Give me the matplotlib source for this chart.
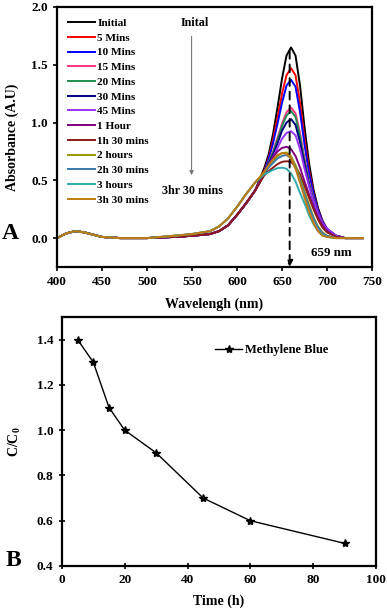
import numpy as np
import matplotlib
matplotlib.use('Agg')
import matplotlib.pyplot as plt

plt.rcParams['font.family'] = ['Liberation Serif', 'DejaVu Serif']
plt.rcParams['font.weight'] = 'bold'
plt.rcParams['mathtext.fontset'] = 'custom'
plt.rcParams['mathtext.rm'] = 'Liberation Serif:bold'
plt.rcParams['mathtext.bf'] = 'Liberation Serif:bold'

# ---- panel A: UV-vis spectra ----
wl = [400, 410, 420, 430, 440, 450, 470, 500, 530, 550, 570, 580, 590, 600, 610, 620,
      630, 635, 640, 645, 650, 655, 660, 665, 670, 675, 680, 685, 690, 695, 700, 710, 720, 740]

labels = ['Initial', '5 Mins', '10 Mins', '15 Mins', '20 Mins', '30 Mins', '45 Mins',
          '1 Hour', '1h 30 mins', '2 hours', '2h 30 mins', '3 hours', '3h 30 mins']
colors = ['#000000', '#ff0000', '#0000ff', '#ff3388', '#1f8f4f', '#000080', '#9933ff',
          '#800080', '#8b1a1a', '#999900', '#3a7aaa', '#33aaaa', '#c07a10']

# 400-620 nm part (early curves sit lower, later ones higher on the blue side)
low_early = [0.0, 0.04, 0.06, 0.05, 0.03, 0.01, 0.0, 0.0, 0.01, 0.02, 0.035, 0.06, 0.11, 0.20, 0.30, 0.41]
low_late = [0.0, 0.04, 0.06, 0.05, 0.03, 0.01, 0.0, 0.0, 0.02, 0.035, 0.06, 0.10, 0.17, 0.27, 0.38, 0.48]

# 630-740 nm part
initial = low_early + [0.60, 0.72, 0.90, 1.13, 1.38, 1.58, 1.65, 1.58, 1.32, 0.96, 0.65, 0.42, 0.26, 0.15, 0.08, 0.02, 0.0, 0.0]
mins5 = low_early + [0.58, 0.69, 0.85, 1.04, 1.25, 1.41, 1.47, 1.41, 1.17, 0.86, 0.59, 0.39, 0.24, 0.14, 0.08, 0.02, 0.0, 0.0]
mins10 = low_early + [0.57, 0.68, 0.82, 0.99, 1.17, 1.32, 1.37, 1.31, 1.09, 0.81, 0.56, 0.38, 0.24, 0.14, 0.08, 0.02, 0.0, 0.0]
mins15 = low_early + [0.56, 0.65, 0.75, 0.87, 0.99, 1.09, 1.13, 1.08, 0.91, 0.69, 0.49, 0.34, 0.22, 0.13, 0.07, 0.02, 0.0, 0.0]
mins20 = low_early + [0.56, 0.65, 0.74, 0.85, 0.97, 1.06, 1.10, 1.05, 0.88, 0.67, 0.48, 0.33, 0.21, 0.13, 0.07, 0.02, 0.0, 0.0]
mins30 = low_early + [0.55, 0.64, 0.72, 0.82, 0.93, 1.00, 1.03, 0.98, 0.83, 0.64, 0.46, 0.32, 0.21, 0.13, 0.07, 0.02, 0.0, 0.0]
mins45 = low_early + [0.55, 0.63, 0.70, 0.78, 0.86, 0.91, 0.925, 0.89, 0.77, 0.60, 0.45, 0.32, 0.21, 0.13, 0.08, 0.02, 0.0, 0.0]
hour1 = low_early + [0.55, 0.62, 0.70, 0.75, 0.78, 0.79, 0.77, 0.71, 0.61, 0.49, 0.38, 0.27, 0.18, 0.11, 0.06, 0.01, 0.0, 0.0]
hour1_30 = low_early + [0.54, 0.58, 0.61, 0.64, 0.66, 0.665, 0.66, 0.62, 0.55, 0.45, 0.35, 0.25, 0.16, 0.09, 0.05, 0.01, 0.0, 0.0]
hours2 = low_late + [0.57, 0.62, 0.67, 0.71, 0.735, 0.74, 0.71, 0.63, 0.52, 0.40, 0.29, 0.18, 0.10, 0.05, 0.02, 0.0, 0.0, 0.0]
hours2_30 = low_late + [0.56, 0.61, 0.65, 0.69, 0.71, 0.72, 0.69, 0.61, 0.50, 0.38, 0.27, 0.17, 0.09, 0.04, 0.02, 0.0, 0.0, 0.0]
hours3 = low_late + [0.55, 0.57, 0.59, 0.605, 0.61, 0.60, 0.56, 0.49, 0.39, 0.30, 0.20, 0.12, 0.06, 0.03, 0.01, 0.0, 0.0, 0.0]
hours3_30 = low_late + [0.57, 0.63, 0.68, 0.72, 0.735, 0.73, 0.69, 0.60, 0.48, 0.35, 0.23, 0.13, 0.06, 0.02, 0.01, 0.0, 0.0, 0.0]

spectra = [initial, mins5, mins10, mins15, mins20, mins30, mins45,
           hour1, hour1_30, hours2, hours2_30, hours3, hours3_30]

# ---- panel B: C/C0 vs time ----
time_h = [5, 10, 15, 20, 30, 45, 60, 90]
c_ratio = [1.4, 1.3, 1.1, 1.0, 0.9, 0.7, 0.6, 0.5]

fig = plt.figure(figsize=(3.87, 6.08), dpi=100)
ax1 = fig.add_axes([0.1473, 0.5609, 0.814, 0.4276])
ax2 = fig.add_axes([0.160, 0.0691, 0.8114, 0.4095])

for y, lab, c in zip(spectra, labels, colors):
    ax1.plot(wl, y, color=c, lw=1.4, label=lab, solid_joinstyle='round')

ax1.set_xlim(400, 750)
ax1.set_ylim(-0.25, 2.0)
ax1.set_xticks(np.arange(400, 751, 50))
ax1.set_yticks([0.0, 0.5, 1.0, 1.5, 2.0])
ax1.set_xlabel('Wavelengh (nm)', fontsize=10, fontweight='bold', labelpad=7)
ax1.set_ylabel('Absorbance (A.U)', fontsize=10, fontweight='bold', labelpad=9)
ax1.legend(loc='upper left', fontsize=8.1, frameon=False, handlelength=2.4,
           handletextpad=0.2, labelspacing=0.43, borderpad=0, borderaxespad=0,
           bbox_to_anchor=(0.035, 0.957))

# gray arrow Initial -> 3hr 30 mins
ax1.annotate('', xy=(549.5, 0.52), xytext=(549.5, 1.77),
             arrowprops=dict(arrowstyle='-|>', color='#777777', lw=0.8, mutation_scale=6))
ax1.text(553, 1.86, 'Inital', fontsize=8.7, fontweight='bold', ha='center', va='center')
ax1.text(551, 0.41, '3hr 30 mins', fontsize=8.7, fontweight='bold', ha='center', va='center')

# dashed peak arrow at 659 nm
ax1.annotate('', xy=(658.5, -0.25), xytext=(658.5, 1.62),
             arrowprops=dict(arrowstyle='-|>', color='black', lw=1.4, ls=(0, (4, 3)),
                             mutation_scale=9, shrinkA=0, shrinkB=0))
ax1.text(705, -0.13, '659 nm', fontsize=9.4, fontweight='bold', ha='center', va='center')
ax1.text(-0.175, 0.13, 'A', transform=ax1.transAxes, fontsize=17, fontweight='bold',
         ha='left', va='center')

ax2.plot(time_h, c_ratio, color='black', lw=1.0, marker='*', ms=6, label='Methylene Blue')
ax2.set_xlim(0, 100)
ax2.set_ylim(0.4, 1.5)
ax2.set_xticks(np.arange(0, 101, 20))
ax2.set_yticks([0.4, 0.6, 0.8, 1.0, 1.2, 1.4])
ax2.set_xlabel('Time (h)', fontsize=10, fontweight='bold', labelpad=6)
ax2.set_ylabel(r'C/C$_\mathbf{0}$', fontsize=10, fontweight='bold', labelpad=10)
ax2.legend(loc='center left', fontsize=9, frameon=False, handlelength=2.2,
           handletextpad=0.25, borderpad=0, borderaxespad=0,
           bbox_to_anchor=(0.487, 0.867))
ax2.text(-0.18, 0.024, 'B', transform=ax2.transAxes, fontsize=17, fontweight='bold',
         ha='left', va='center')

for ax in (ax1, ax2):
    for s in ax.spines.values():
        s.set_linewidth(1.6)
    ax.tick_params(direction='out', length=3, width=1.2, labelsize=9.5, top=False, right=False)
    for t in ax.get_xticklabels() + ax.get_yticklabels():
        t.set_fontweight('bold')
ax2.tick_params(direction='inout', length=5)

fig.savefig('out.png', dpi=100)
